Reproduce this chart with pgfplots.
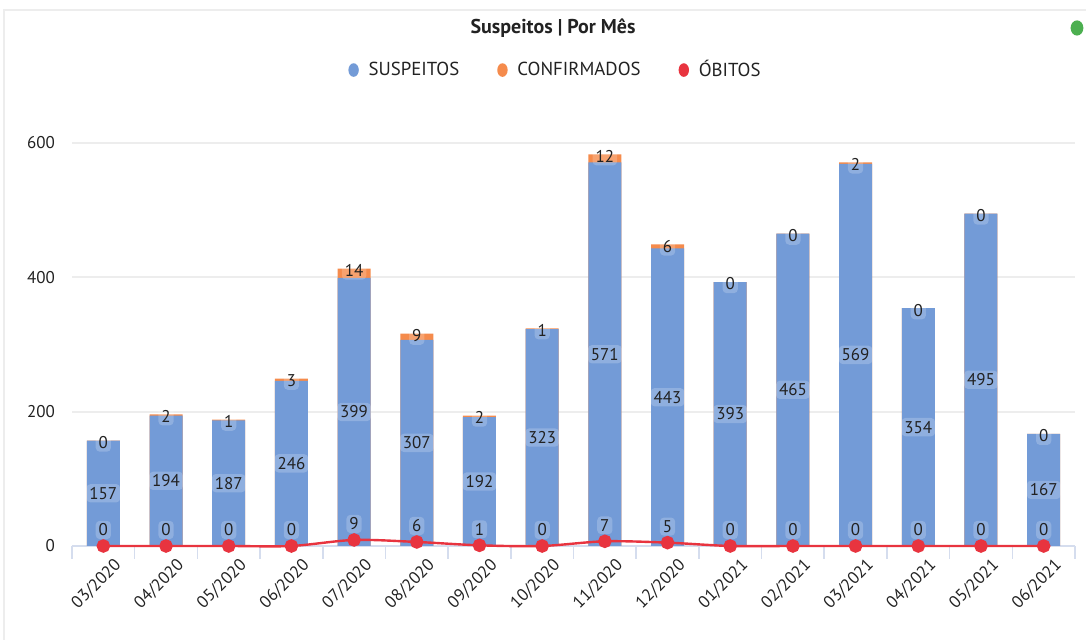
\documentclass[border=0pt]{standalone}
\usepackage{pgfplots}
\pgfplotsset{compat=1.18}
\usepackage{pgfplotstable}
\usepackage{fontspec}
\setmainfont{PT Sans}
\definecolor{cblue}{HTML}{739BD7}
\definecolor{corange}{HTML}{F58B4C}
\definecolor{cred}{HTML}{E8343F}
\definecolor{cgreen}{HTML}{4CAF50}
\definecolor{cgrid}{HTML}{EDEDED}
\definecolor{caxis}{HTML}{D5DDEE}
\definecolor{ctext}{HTML}{222222}

\pgfplotstableread{
x s c o
0 157 0 0
1 194 2 0
2 187 1 0
3 246 3 0
4 399 14 9
5 307 9 6
6 192 2 1
7 323 1 0
8 571 12 7
9 443 6 5
10 393 0 0
11 465 0 0
12 569 2 0
13 354 0 0
14 495 0 0
15 167 0 0
}\data

\begin{document}
\begin{tikzpicture}[font=\fontsize{8.5}{10}\selectfont]
\path[use as bounding box] (0,0) rectangle (543pt,320pt);
\draw[cgrid, line width=1pt] (2pt,0) -- (2pt,315pt) -- (543pt,315pt);
\begin{axis}[
  at={(36pt,47pt)}, anchor=south west,
  scale only axis, width=501.5pt, height=201.5pt,
  xmin=-0.5, xmax=15.5, ymin=0, ymax=600,
  clip=false,
  axis x line*=bottom, axis y line*=left,
  y axis line style={draw=none},
  x axis line style={caxis, line width=1pt},
  ytick={0,200,400,600},
  ymajorgrids, grid style={cgrid, line width=1pt},
  xtick={0,...,15},
  xticklabels={03/2020,04/2020,05/2020,06/2020,07/2020,08/2020,09/2020,10/2020,11/2020,12/2020,01/2021,02/2021,03/2021,04/2021,05/2021,06/2021},
  minor xtick={-0.5,0.5,...,15.5},
  tick align=outside,
  major tick length=0pt, minor tick length=6.5pt,
  minor tick style={caxis, line width=0.8pt},
  xticklabel style={rotate=45, anchor=north east, text=ctext, xshift=3pt, yshift=-4pt},
  yticklabel style={text=ctext, xshift=-5pt},
  /pgf/number format/assume math mode=true,
  legend style={at={(0.483,1.181)}, anchor=center, draw=none, fill=none,
    legend columns=3, text=ctext, font=\fontsize{9.4}{11}\selectfont,
    /tikz/every even column/.append style={column sep=17pt}},
  legend image code/.code={\fill[#1, draw=none] (0pt,0pt) ellipse [x radius=2.6pt, y radius=3.4pt]; \path[draw=none, fill=none] (0pt,0pt) -- (5.5pt,0pt);},
  every node near coord/.append style={text=ctext, fill=white, fill opacity=0.2, text opacity=1, rounded corners=2pt, inner sep=1.5pt, anchor=center},
]
\addlegendimage{cblue}\addlegendentry{SUSPEITOS}
\addlegendimage{corange}\addlegendentry{CONFIRMADOS}
\addlegendimage{cred}\addlegendentry{ÓBITOS}

\addplot[forget plot, ybar, bar width=16.5pt, bar shift=0pt, fill=corange, draw=none]
  table[x=x, y expr=\thisrow{s}+\thisrow{c}] {\data};
\addplot[forget plot, ybar, bar width=16.5pt, bar shift=0pt, fill=cblue, draw=none]
  table[x=x, y=s] {\data};
\addplot[forget plot, cred, line width=1.2pt, smooth, mark=*, mark size=2.8pt, mark options={fill=cred, draw=cred}]
  table[x=x, y=o] {\data};

\addplot[forget plot, draw=none, mark=none, nodes near coords, point meta=explicit]
  table[x=x, y expr=\thisrow{s}/2, meta=s] {\data};
\addplot[forget plot, draw=none, mark=none, nodes near coords, point meta=explicit,
  every node near coord/.append style={yshift=-1pt}]
  table[x=x, y expr=\thisrow{s}+\thisrow{c}, meta=c] {\data};
\addplot[forget plot, draw=none, mark=none, nodes near coords, point meta=explicit,
  every node near coord/.append style={yshift=8pt}]
  table[x=x, y=o, meta=o] {\data};
\end{axis}
\node[font=\fontsize{10}{12}\selectfont\bfseries, text=ctext] at (276.5pt,306pt) {Suspeitos | Por Mês};
\fill[cgreen] (538.5pt,306pt) ellipse [x radius=3.2pt, y radius=3.8pt];
\end{tikzpicture}
\end{document}
